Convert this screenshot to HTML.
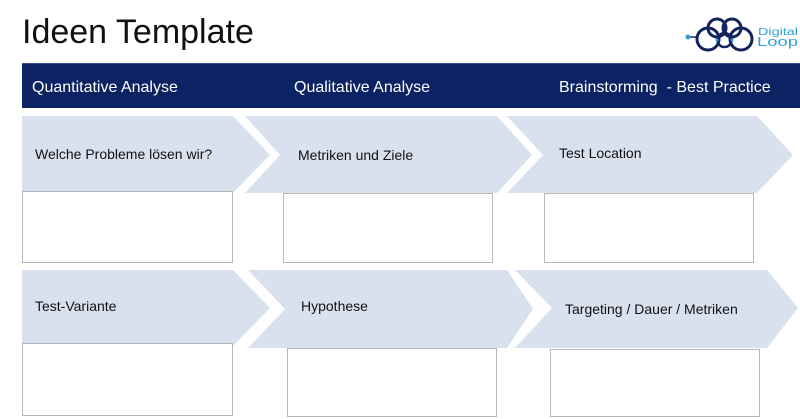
<!DOCTYPE html>
<html>
<head>
<meta charset="utf-8">
<style>
  html,body{margin:0;padding:0;background:#fff;}
  body{width:800px;height:419px;overflow:hidden;}
  svg{display:block;}
  text{font-family:"Liberation Sans",Arial,sans-serif;}
</style>
</head>
<body>
<svg width="800" height="419" viewBox="0 0 800 419" xmlns="http://www.w3.org/2000/svg">
  <rect x="0" y="0" width="800" height="419" fill="#ffffff"/>

  <!-- Title -->
  <text x="22" y="43" font-size="34" fill="#111">Ideen Template</text>

  <!-- Logo -->
  <g fill="none" stroke="#13245e" stroke-width="3">
    <circle cx="708" cy="39" r="11"/>
    <circle cx="741" cy="39" r="11"/>
    <circle cx="717" cy="28" r="9"/>
    <circle cx="732" cy="28" r="9"/>
    <circle cx="724.5" cy="40" r="7" stroke-width="2.5"/>
  </g>
  <line x1="688" y1="37" x2="697" y2="37" stroke="#13245e" stroke-width="1.5"/>
  <circle cx="688" cy="37" r="2.5" fill="#2f9fdc"/>
  <circle cx="717" cy="40" r="1.5" fill="#2f9fdc"/>
  <circle cx="732" cy="40" r="1.5" fill="#2f9fdc"/>
  <text x="758" y="35" font-size="10" fill="#2f9fdc" textLength="40" lengthAdjust="spacingAndGlyphs">Digital</text>
  <text x="757" y="46" font-size="13" fill="#2f9fdc" textLength="41" lengthAdjust="spacingAndGlyphs">Loop</text>

  <!-- Header bar -->
  <rect x="22" y="63" width="778" height="45" fill="#0b2263"/>
  <line x1="22" y1="63.5" x2="800" y2="63.5" stroke="#3a5090" stroke-width="1"/>
  <text x="32" y="92" font-size="16" fill="#ffffff">Quantitative Analyse</text>
  <text x="294" y="92" font-size="16" fill="#ffffff">Qualitative Analyse</text>
  <text x="559" y="92" font-size="16" fill="#ffffff" xml:space="preserve">Brainstorming  - Best Practice</text>

  <!-- Arrows -->
  <g fill="#d9e1ef">
    <polygon points="22,116 233,116 270,155 233,193 22,193"/>
    <polygon points="245,116 497,116 532,155 497,193 245,193 280,155"/>
    <polygon points="507,116 757,116 793,155 757,193 507,193 543,155"/>
    <polygon points="22,270 233,270 270,308 233,346 22,346"/>
    <polygon points="248,270 507,270 533,309 507,348 248,348 285,309"/>
    <polygon points="515,270 767,270 798,308 767,348 515,348 552,308"/>
  </g>

  <!-- Row 1 labels -->
  <text x="35" y="159" font-size="14" fill="#111">Welche Probleme lösen wir?</text>
  <text x="298" y="160" font-size="14" fill="#111">Metriken und Ziele</text>
  <text x="559" y="158" font-size="14" fill="#111">Test Location</text>

  <!-- Row 2 labels -->
  <text x="35" y="311" font-size="14" fill="#111">Test-Variante</text>
  <text x="301" y="311" font-size="14" fill="#111">Hypothese</text>
  <text x="565" y="314" font-size="14" fill="#111">Targeting / Dauer / Metriken</text>

  <!-- Boxes -->
  <g fill="#ffffff" stroke="#b8b8b8" stroke-width="1">
    <rect x="22.5" y="191.5" width="210" height="71"/>
    <rect x="283.5" y="193.5" width="209" height="69"/>
    <rect x="544.5" y="193.5" width="209" height="69"/>
    <rect x="22.5" y="343.5" width="210" height="72"/>
    <rect x="287.5" y="348.5" width="209" height="68"/>
    <rect x="550.5" y="349.5" width="209" height="67"/>
  </g>
</svg>
</body>
</html>
